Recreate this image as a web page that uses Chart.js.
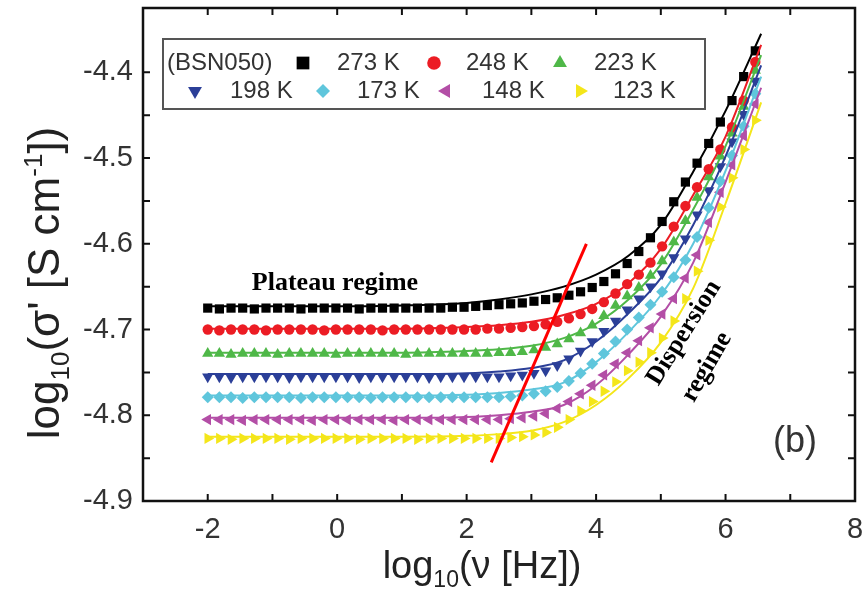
<!DOCTYPE html>
<html>
<head>
<meta charset="utf-8">
<script src="https://cdn.jsdelivr.net/npm/chart.js@4.4.1/dist/chart.umd.min.js"></script>
<style>
html, body { margin: 0; padding: 0; background: #fff; }
#wrap { width: 868px; height: 595px; }
</style>
</head>
<body>
<div id="wrap"><canvas id="myChart" width="868" height="595"></canvas></div>
<script>
// --- Données (log10 f, log10 sigma') ---
const freqLog = [-2.00, -1.82, -1.64, -1.46, -1.28, -1.10, -0.92, -0.74, -0.56, -0.38,
                 -0.20, -0.02, 0.16, 0.34, 0.52, 0.70, 0.88, 1.06, 1.24, 1.42,
                 1.60, 1.78, 1.96, 2.14, 2.32, 2.50, 2.68, 2.86, 3.04, 3.22,
                 3.40, 3.58, 3.76, 3.94, 4.12, 4.30, 4.48, 4.66, 4.84, 5.02,
                 5.20, 5.38, 5.56, 5.74, 5.92, 6.10, 6.28, 6.46];

const s273 = [-4.675, -4.676, -4.675, -4.675, -4.676, -4.675, -4.675, -4.675, -4.676, -4.675,
              -4.675, -4.675, -4.675, -4.676, -4.675, -4.675, -4.675, -4.675, -4.675, -4.675,
              -4.675, -4.674, -4.674, -4.673, -4.672, -4.671, -4.670, -4.669, -4.667, -4.665,
              -4.663, -4.660, -4.656, -4.651, -4.644, -4.635, -4.623, -4.609, -4.593, -4.574,
              -4.551, -4.528, -4.506, -4.483, -4.458, -4.433, -4.405, -4.375];
const s248 = [-4.700, -4.701, -4.700, -4.700, -4.700, -4.701, -4.700, -4.700, -4.700, -4.700,
              -4.701, -4.700, -4.700, -4.700, -4.700, -4.701, -4.700, -4.700, -4.700, -4.700,
              -4.700, -4.700, -4.700, -4.700, -4.699, -4.699, -4.698, -4.697, -4.696, -4.694,
              -4.691, -4.687, -4.682, -4.676, -4.668, -4.658, -4.647, -4.636, -4.622, -4.603,
              -4.580, -4.556, -4.534, -4.513, -4.490, -4.464, -4.433, -4.388];
const s223 = [-4.728, -4.728, -4.729, -4.728, -4.728, -4.728, -4.729, -4.728, -4.728, -4.728,
              -4.728, -4.729, -4.728, -4.728, -4.728, -4.728, -4.728, -4.729, -4.728, -4.728,
              -4.728, -4.728, -4.728, -4.728, -4.728, -4.727, -4.727, -4.726, -4.724, -4.721,
              -4.717, -4.711, -4.704, -4.695, -4.684, -4.672, -4.661, -4.651, -4.637, -4.620,
              -4.598, -4.573, -4.546, -4.522, -4.498, -4.471, -4.440, -4.398];
const s198 = [-4.755, -4.755, -4.756, -4.755, -4.755, -4.755, -4.755, -4.756, -4.755, -4.755,
              -4.755, -4.755, -4.755, -4.756, -4.755, -4.755, -4.755, -4.755, -4.755, -4.756,
              -4.755, -4.755, -4.755, -4.755, -4.755, -4.755, -4.754, -4.753, -4.751, -4.748,
              -4.742, -4.734, -4.725, -4.714, -4.702, -4.690, -4.677, -4.664, -4.650, -4.635,
              -4.616, -4.594, -4.566, -4.538, -4.510, -4.481, -4.449, -4.410];
const s173 = [-4.779, -4.779, -4.779, -4.780, -4.779, -4.779, -4.779, -4.779, -4.780, -4.779,
              -4.779, -4.779, -4.779, -4.779, -4.780, -4.779, -4.779, -4.779, -4.779, -4.779,
              -4.779, -4.779, -4.779, -4.779, -4.779, -4.779, -4.778, -4.777, -4.775, -4.772,
              -4.767, -4.760, -4.751, -4.740, -4.728, -4.714, -4.700, -4.686, -4.671, -4.656,
              -4.639, -4.619, -4.592, -4.558, -4.527, -4.497, -4.463, -4.425];
const s148 = [-4.805, -4.805, -4.805, -4.806, -4.805, -4.805, -4.805, -4.805, -4.805, -4.806,
              -4.805, -4.805, -4.805, -4.805, -4.805, -4.805, -4.806, -4.805, -4.805, -4.805,
              -4.805, -4.805, -4.805, -4.805, -4.805, -4.805, -4.804, -4.803, -4.801, -4.798,
              -4.792, -4.784, -4.775, -4.765, -4.753, -4.740, -4.727, -4.713, -4.698, -4.682,
              -4.664, -4.640, -4.613, -4.575, -4.540, -4.508, -4.474, -4.437];
const s123 = [-4.827, -4.827, -4.828, -4.827, -4.827, -4.827, -4.827, -4.828, -4.827, -4.827,
              -4.827, -4.827, -4.827, -4.828, -4.827, -4.827, -4.827, -4.827, -4.828, -4.827,
              -4.827, -4.827, -4.827, -4.827, -4.827, -4.827, -4.826, -4.825, -4.823, -4.820,
              -4.814, -4.805, -4.795, -4.784, -4.772, -4.761, -4.748, -4.738, -4.727, -4.710,
              -4.690, -4.664, -4.632, -4.596, -4.557, -4.523, -4.490, -4.456];

// --- Courbes d'ajustement (traits pleins) ---
const fitLog = [-2, 0, 1, 2, 2.5, 3, 3.5, 4, 4.5, 5, 5.5, 6, 6.55];
const fit273 = [-4.673, -4.673, -4.672, -4.669, -4.665, -4.659, -4.650, -4.636, -4.614, -4.578, -4.516, -4.445, -4.355];
const fit248 = [-4.699, -4.699, -4.699, -4.697, -4.695, -4.691, -4.683, -4.670, -4.646, -4.606, -4.543, -4.475, -4.368];
const fit223 = [-4.727, -4.727, -4.727, -4.725, -4.723, -4.719, -4.710, -4.693, -4.665, -4.624, -4.560, -4.486, -4.380];
const fit198 = [-4.752, -4.752, -4.752, -4.751, -4.749, -4.745, -4.736, -4.714, -4.681, -4.640, -4.578, -4.498, -4.392];
const fit173 = [-4.777, -4.777, -4.777, -4.776, -4.774, -4.770, -4.762, -4.738, -4.703, -4.660, -4.600, -4.515, -4.405];
const fit148 = [-4.803, -4.803, -4.803, -4.802, -4.800, -4.796, -4.788, -4.765, -4.729, -4.685, -4.622, -4.528, -4.418];
const fit123 = [-4.825, -4.825, -4.825, -4.824, -4.822, -4.818, -4.808, -4.788, -4.757, -4.715, -4.652, -4.553, -4.435];

// --- Trait rouge (frontière plateau / dispersion) ---
const guideX = [2.38, 3.85];
const guideY = [-4.855, -4.600];

// --- Séries ---
const series = [
    { label: '273 K', pts: s273, fit: fit273, color: '#000000', style: 'rect',     rot: 0,   r: 6.5, lr: 9 },
    { label: '248 K', pts: s248, fit: fit248, color: '#ec1c24', style: 'circle',   rot: 0,   r: 5.2, lr: 6.8 },
    { label: '223 K', pts: s223, fit: fit223, color: '#4fb848', style: 'triangle', rot: 0,   r: 6.5, lr: 8 },
    { label: '198 K', pts: s198, fit: fit198, color: '#2b3f98', style: 'triangle', rot: 180, r: 6.5, lr: 8 },
    { label: '173 K', pts: s173, fit: fit173, color: '#5fc6dc', style: 'rectRot',  rot: 0,   r: 6,   lr: 7 },
    { label: '148 K', pts: s148, fit: fit148, color: '#b34ea6', style: 'triangle', rot: 270, r: 6.5, lr: 8 },
    { label: '123 K', pts: s123, fit: fit123, color: '#f4e61a', style: 'triangle', rot: 90,  r: 6.5, lr: 8 }
];

const SANS = '"Liberation Sans", Arial, sans-serif';
const SERIF = '"Liberation Serif", "Times New Roman", serif';

// --- Jeux de données ---
const datasets = [];
series.forEach(s => {
    datasets.push({
        label: s.label,
        data: freqLog.map((x, i) => ({ x: x, y: s.pts[i] })),
        showLine: false,
        pointStyle: s.style,
        rotation: s.rot,
        pointRadius: s.r,
        pointBorderWidth: 0,
        backgroundColor: s.color,
        borderColor: s.color,
        order: 2
    });
});
series.forEach(s => {
    datasets.push({
        label: s.label + ' fit',
        data: fitLog.map((x, i) => ({ x: x, y: s.fit[i] })),
        showLine: true,
        pointRadius: 0,
        borderColor: s.color,
        borderWidth: 2,
        cubicInterpolationMode: 'monotone',
        order: 1
    });
});
datasets.push({
    label: 'guide',
    data: guideX.map((x, i) => ({ x: x, y: guideY[i] })),
    showLine: true,
    pointRadius: 0,
    borderColor: '#ff0000',
    borderWidth: 3,
    order: 0
});

// --- Texte avec indices / exposants ---
function drawRich(ctx, parts, x, y) {
    let total = 0;
    parts.forEach(p => {
        ctx.font = p.size + 'px ' + SANS;
        p.w = ctx.measureText(p.t).width;
        total += p.w;
    });
    let cx = x - total / 2;
    parts.forEach(p => {
        ctx.font = p.size + 'px ' + SANS;
        ctx.fillText(p.t, cx, y + (p.dy || 0));
        cx += p.w;
    });
}

function isStep(v, step) {
    const q = v / step;
    return Math.abs(q - Math.round(q)) < 1e-6;
}

// --- Cadre, graduations internes, légende et annotations ---
const decorPlugin = {
    id: 'decor',
    afterDraw(chart) {
        const { ctx, chartArea: a, scales: { x, y } } = chart;
        ctx.save();

        // graduations vers l'intérieur, sur les quatre côtés
        ctx.strokeStyle = '#111';
        ctx.lineWidth = 2;
        const tl = 7;
        x.ticks.forEach(t => {
            const px = x.getPixelForValue(t.value);
            if (px < a.left + 2 || px > a.right - 2) return;
            ctx.beginPath();
            ctx.moveTo(px, a.bottom); ctx.lineTo(px, a.bottom - tl);
            ctx.moveTo(px, a.top);    ctx.lineTo(px, a.top + tl);
            ctx.stroke();
        });
        y.ticks.forEach(t => {
            if (!isStep(t.value, 0.05)) return;
            const py = y.getPixelForValue(t.value);
            if (py < a.top + 2 || py > a.bottom - 2) return;
            ctx.beginPath();
            ctx.moveTo(a.left, py);  ctx.lineTo(a.left + tl, py);
            ctx.moveTo(a.right, py); ctx.lineTo(a.right - tl, py);
            ctx.stroke();
        });
        ctx.lineWidth = 2.5;
        ctx.strokeRect(a.left, a.top, a.right - a.left, a.bottom - a.top);

        // légende
        ctx.lineWidth = 2;
        ctx.strokeStyle = '#555';
        ctx.fillStyle = '#fff';
        ctx.fillRect(163, 39, 542, 70);
        ctx.strokeRect(163, 39, 542, 70);
        ctx.fillStyle = '#333';
        ctx.font = '24px ' + SANS;
        ctx.textBaseline = 'middle';
        ctx.textAlign = 'left';
        ctx.fillText('(BSN050)', 167, 63);
        const slots = [
            { mx: 303, tx: 337, y: 63 }, { mx: 434, tx: 466, y: 63 }, { mx: 560, tx: 594, y: 63 },
            { mx: 195, tx: 230, y: 91 }, { mx: 323, tx: 357, y: 91 }, { mx: 446, tx: 482, y: 91 },
            { mx: 580, tx: 613, y: 91 }
        ];
        series.forEach((s, i) => {
            const slot = slots[i];
            ctx.fillStyle = s.color;
            Chart.helpers.drawPoint(ctx, { pointStyle: s.style, rotation: s.rot, radius: s.lr, borderWidth: 0 }, slot.mx, slot.y);
            ctx.fillStyle = '#333';
            ctx.font = '24px ' + SANS;
            ctx.fillText(s.label, slot.tx, slot.y);
        });

        // titres des axes
        ctx.fillStyle = '#222';
        ctx.textBaseline = 'alphabetic';
        ctx.textAlign = 'left';
        drawRich(ctx, [
            { t: 'log', size: 38 },
            { t: '10', size: 23, dy: 9 },
            { t: '(\u03bd [Hz])', size: 38 }
        ], 482, 578);
        ctx.save();
        ctx.translate(59, 283);
        ctx.rotate(-Math.PI / 2);
        drawRich(ctx, [
            { t: 'log', size: 44 },
            { t: '10', size: 26, dy: 10 },
            { t: '(\u03c3\' [S cm', size: 44 },
            { t: '-1', size: 26, dy: -17 },
            { t: '])', size: 44 }
        ], 0, 0);
        ctx.restore();

        // annotations
        ctx.fillStyle = '#000';
        ctx.textAlign = 'center';
        ctx.textBaseline = 'middle';
        ctx.font = 'bold 26px ' + SERIF;
        ctx.fillText('Plateau regime', 335, 283);
        ctx.save();
        ctx.translate(684, 333);
        ctx.rotate(-58 * Math.PI / 180);
        ctx.fillText('Dispersion', 0, 0);
        ctx.restore();
        ctx.save();
        ctx.translate(707, 367);
        ctx.rotate(-60 * Math.PI / 180);
        ctx.fillText('regime', 0, 0);
        ctx.restore();

        ctx.fillStyle = '#333';
        ctx.font = '36px ' + SANS;
        ctx.fillText('(b)', 795, 442);

        ctx.restore();
    }
};

// --- Rendu du graphique ---
const ctx = document.getElementById('myChart').getContext('2d');
new Chart(ctx, {
    type: 'scatter',
    data: { datasets: datasets },
    options: {
        responsive: false,
        animation: false,
        layout: { padding: { top: 8, right: 13, bottom: 0, left: 0 } },
        plugins: {
            legend: { display: false },
            tooltip: { enabled: false }
        },
        scales: {
            x: {
                type: 'linear',
                min: -3,
                max: 8,
                grid: { display: false, drawTicks: false },
                border: { display: false },
                ticks: {
                    stepSize: 1,
                    padding: 12,
                    autoSkip: false,
                    maxRotation: 0,
                    color: '#333',
                    font: { family: SANS, size: 29 },
                    callback: v => (isStep(v, 2) ? String(Math.round(v)) : '')
                },
                afterFit: s => { s.height = 94; s.paddingLeft = 0; s.paddingRight = 0; }
            },
            y: {
                type: 'linear',
                min: -4.9,
                max: -4.325,
                grid: { display: false, drawTicks: false },
                border: { display: false },
                ticks: {
                    stepSize: 0.05,
                    padding: 10,
                    autoSkip: false,
                    color: '#333',
                    font: { family: SANS, size: 29 },
                    callback: v => (isStep(v, 0.1) ? v.toFixed(1) : '')
                },
                afterFit: s => { s.width = 143; s.paddingTop = 0; s.paddingBottom = 0; }
            }
        }
    },
    plugins: [decorPlugin]
});
</script>
</body>
</html>
